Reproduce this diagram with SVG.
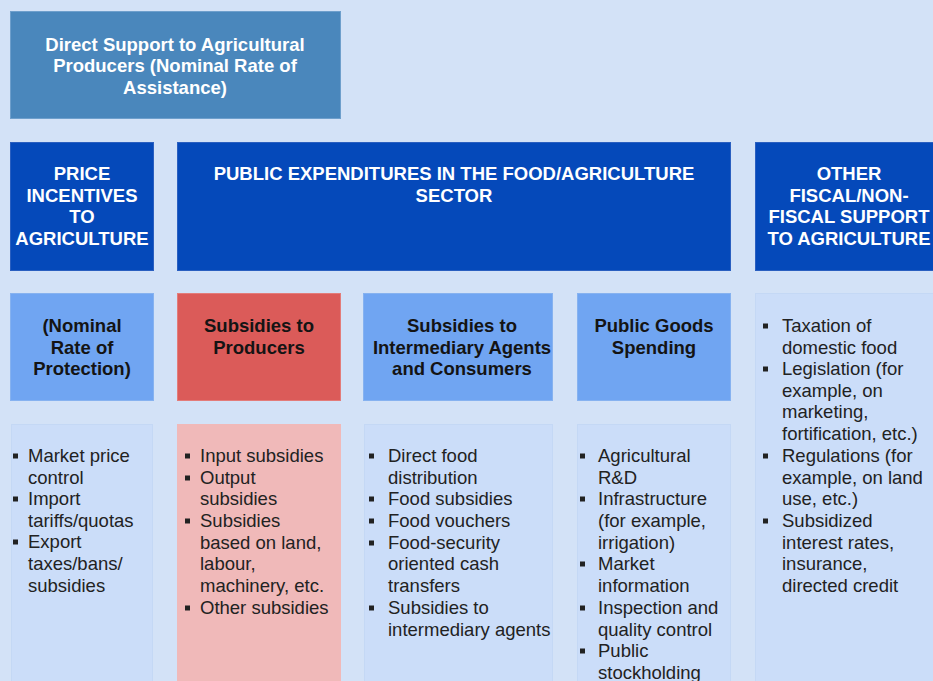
<svg xmlns="http://www.w3.org/2000/svg" width="933" height="681" viewBox="0 0 933 681">
<style>
  text { font-family: "Liberation Sans", Arial, sans-serif; font-size: 18.5px; }
  .w { fill: #ffffff; font-weight: bold; text-anchor: middle; }
  .h { fill: #141414; font-weight: bold; text-anchor: middle; }
  .b { fill: #222222; }
  .top { fill: #4A87BC; stroke: #6E9FCC; stroke-width: 1; }
  .dark { fill: #0549BA; stroke: #2A5FC0; stroke-width: 1; }
  .mid { fill: #70A5F2; stroke: #86B2F0; stroke-width: 1; }
  .red { fill: #DB5B59; stroke: #E37C7A; stroke-width: 1; }
  .pink { fill: #F0B9B9; }
  .lite { fill: #CBDDF9; stroke: #C4D8F5; stroke-width: 1; }
  .bul { fill: #222222; }
</style>
<defs>
  <rect id="sq" x="0" y="-2.5" width="5" height="5"/>
</defs>
<rect x="0" y="0" width="933" height="681" fill="#D3E2F7"/>
<g id="connectors"></g>

<g id="direct-support">
  <rect class="top" x="10.5" y="11.5" width="330" height="107"/>
  <text class="w" x="175" y="51">Direct Support to Agricultural</text>
  <text class="w" x="175" y="72">Producers (Nominal Rate of</text>
  <text class="w" x="175" y="94">Assistance)</text>
</g>

<g id="price-incentives">
  <rect class="dark" x="10.5" y="142.5" width="143" height="128"/>
  <text class="w" x="82" y="180">PRICE</text>
  <text class="w" x="82" y="202">INCENTIVES</text>
  <text class="w" x="82" y="223">TO</text>
  <text class="w" x="82" y="245">AGRICULTURE</text>
</g>

<g id="public-expenditures">
  <rect class="dark" x="177.5" y="142.5" width="553" height="128"/>
  <text class="w" x="454" y="180">PUBLIC EXPENDITURES IN THE FOOD/AGRICULTURE</text>
  <text class="w" x="454" y="202">SECTOR</text>
</g>

<g id="other-support">
  <rect class="dark" x="755.5" y="142.5" width="185" height="128"/>
  <text class="w" x="849" y="180">OTHER</text>
  <text class="w" x="849" y="202">FISCAL/NON-</text>
  <text class="w" x="849" y="223">FISCAL SUPPORT</text>
  <text class="w" x="849" y="245">TO AGRICULTURE</text>
</g>

<g id="nominal-protection">
  <rect class="mid" x="10.5" y="293.5" width="143" height="107"/>
  <text class="h" x="82" y="332">(Nominal</text>
  <text class="h" x="82" y="354">Rate of</text>
  <text class="h" x="82" y="375">Protection)</text>
</g>

<g id="subsidies-producers">
  <rect class="red" x="177.5" y="293.5" width="163" height="107"/>
  <text class="h" x="259" y="332">Subsidies to</text>
  <text class="h" x="259" y="354">Producers</text>
</g>

<g id="subsidies-intermediary">
  <rect class="mid" x="363.5" y="293.5" width="189" height="107"/>
  <text class="h" x="462" y="332">Subsidies to</text>
  <text class="h" x="462" y="354">Intermediary Agents</text>
  <text class="h" x="462" y="375">and Consumers</text>
</g>

<g id="public-goods">
  <rect class="mid" x="577.5" y="293.5" width="153" height="107"/>
  <text class="h" x="654" y="332">Public Goods</text>
  <text class="h" x="654" y="354">Spending</text>
</g>

<g id="price-list">
  <rect class="lite" x="11.5" y="424.5" width="141" height="262"/>
  <use href="#sq" class="bul" x="13" y="456"/>
  <use href="#sq" class="bul" x="13" y="499"/>
  <use href="#sq" class="bul" x="13" y="542"/>
  <text class="b" x="28" y="462">Market price</text>
  <text class="b" x="28" y="484">control</text>
  <text class="b" x="28" y="505">Import</text>
  <text class="b" x="28" y="527">tariffs/quotas</text>
  <text class="b" x="28" y="548">Export</text>
  <text class="b" x="28" y="570">taxes/bans/</text>
  <text class="b" x="28" y="592">subsidies</text>
</g>

<g id="producers-list">
  <rect class="pink" x="177" y="424" width="164" height="262"/>
  <use href="#sq" class="bul" x="185" y="456"/>
  <use href="#sq" class="bul" x="185" y="478"/>
  <use href="#sq" class="bul" x="185" y="521"/>
  <use href="#sq" class="bul" x="185" y="608"/>
  <text class="b" x="200" y="462">Input subsidies</text>
  <text class="b" x="200" y="484">Output</text>
  <text class="b" x="200" y="505">subsidies</text>
  <text class="b" x="200" y="527">Subsidies</text>
  <text class="b" x="200" y="549">based on land,</text>
  <text class="b" x="200" y="570">labour,</text>
  <text class="b" x="200" y="592">machinery, etc.</text>
  <text class="b" x="200" y="614">Other subsidies</text>
</g>

<g id="intermediary-list">
  <rect class="lite" x="364.5" y="424.5" width="188" height="262"/>
  <use href="#sq" class="bul" x="369" y="456"/>
  <use href="#sq" class="bul" x="369" y="499"/>
  <use href="#sq" class="bul" x="369" y="521"/>
  <use href="#sq" class="bul" x="369" y="543"/>
  <use href="#sq" class="bul" x="369" y="608"/>
  <text class="b" x="388" y="462">Direct food</text>
  <text class="b" x="388" y="484">distribution</text>
  <text class="b" x="388" y="505">Food subsidies</text>
  <text class="b" x="388" y="527">Food vouchers</text>
  <text class="b" x="388" y="549">Food-security</text>
  <text class="b" x="388" y="570">oriented cash</text>
  <text class="b" x="388" y="592">transfers</text>
  <text class="b" x="388" y="614">Subsidies to</text>
  <text class="b" x="388" y="636">intermediary agents</text>
</g>

<g id="public-goods-list">
  <rect class="lite" x="577.5" y="424.5" width="153" height="262"/>
  <use href="#sq" class="bul" x="580" y="456"/>
  <use href="#sq" class="bul" x="580" y="499"/>
  <use href="#sq" class="bul" x="580" y="564"/>
  <use href="#sq" class="bul" x="580" y="608"/>
  <use href="#sq" class="bul" x="580" y="651"/>
  <text class="b" x="598" y="462">Agricultural</text>
  <text class="b" x="598" y="484">R&amp;D</text>
  <text class="b" x="598" y="505">Infrastructure</text>
  <text class="b" x="598" y="527">(for example,</text>
  <text class="b" x="598" y="549">irrigation)</text>
  <text class="b" x="598" y="570">Market</text>
  <text class="b" x="598" y="592">information</text>
  <text class="b" x="598" y="614">Inspection and</text>
  <text class="b" x="598" y="636">quality control</text>
  <text class="b" x="598" y="657">Public</text>
  <text class="b" x="598" y="679">stockholding</text>
</g>

<g id="other-list">
  <rect class="lite" x="755.5" y="293.5" width="185" height="393"/>
  <use href="#sq" class="bul" x="763" y="326"/>
  <use href="#sq" class="bul" x="763" y="369"/>
  <use href="#sq" class="bul" x="763" y="456"/>
  <use href="#sq" class="bul" x="763" y="521"/>
  <text class="b" x="782" y="332">Taxation of</text>
  <text class="b" x="782" y="354">domestic food</text>
  <text class="b" x="782" y="375">Legislation (for</text>
  <text class="b" x="782" y="397">example, on</text>
  <text class="b" x="782" y="418">marketing,</text>
  <text class="b" x="782" y="440">fortification, etc.)</text>
  <text class="b" x="782" y="462">Regulations (for</text>
  <text class="b" x="782" y="484">example, on land</text>
  <text class="b" x="782" y="505">use, etc.)</text>
  <text class="b" x="782" y="527">Subsidized</text>
  <text class="b" x="782" y="549">interest rates,</text>
  <text class="b" x="782" y="570">insurance,</text>
  <text class="b" x="782" y="592">directed credit</text>
</g>
</svg>
